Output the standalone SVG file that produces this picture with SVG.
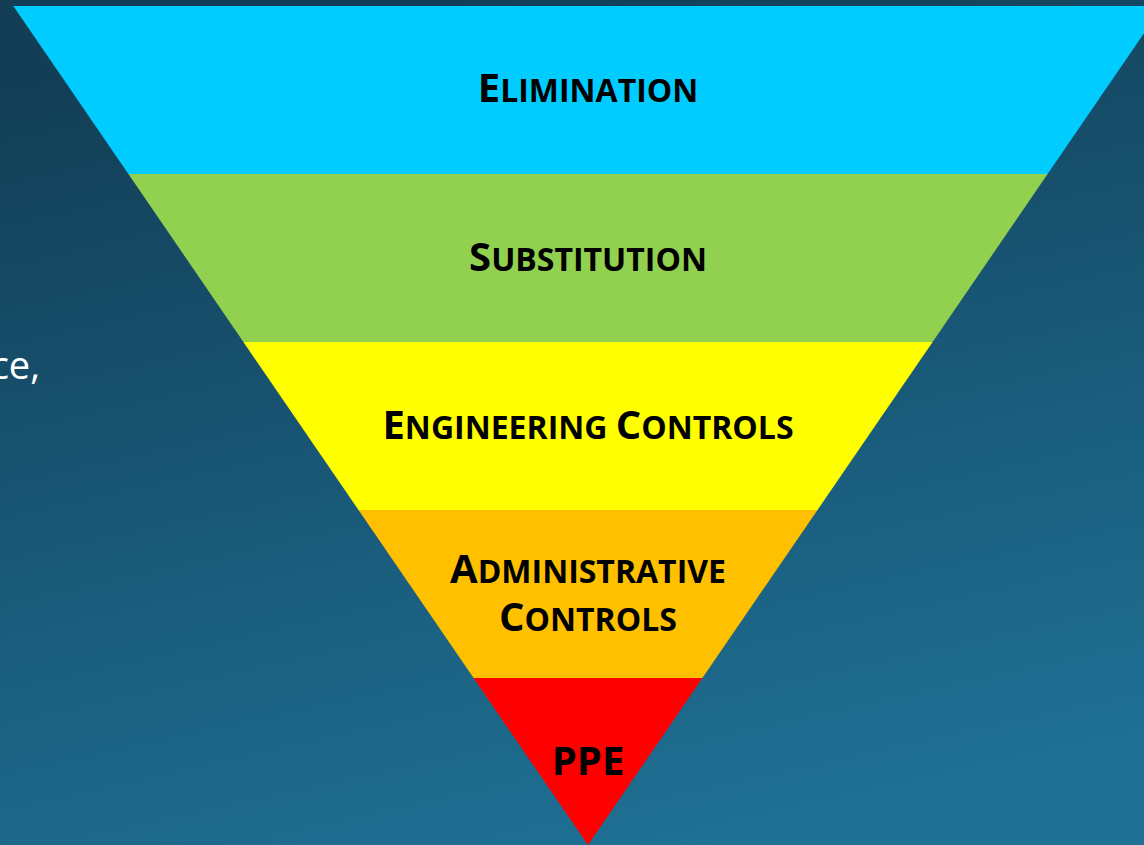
<svg xmlns="http://www.w3.org/2000/svg" width="1144" height="845" viewBox="0 0 1144 845">
<defs>
<linearGradient id="bg" x1="0.35" y1="0" x2="0.65" y2="1">
<stop offset="0" stop-color="#123e56"/>
<stop offset="1" stop-color="#1f7196"/>
</linearGradient>
</defs>
<style>
.lbl{font-family:"Open Sans","Noto Sans",sans-serif;font-weight:bold;fill:#000;text-anchor:middle}
.big{font-size:40px}
.sm{font-size:32px}
.side{font-family:"Open Sans","Noto Sans",sans-serif;font-size:38px;fill:#ffffff;text-anchor:end}
</style>
<rect x="0" y="0" width="1144" height="845" fill="url(#bg)"/>
<text class="side" x="40" y="379">ce,</text>
<g id="elimination">
<polygon points="13.3,6 1162.7,6 1047.6,174 128.4,174" fill="#00ccff"/>
<text class="lbl" x="588" y="102"><tspan class="big">E</tspan><tspan class="sm">LIMINATION</tspan></text>
</g>
<g id="substitution">
<polygon points="128.4,174 1047.6,174 932.6,342 243.4,342" fill="#92d050"/>
<text class="lbl" x="588" y="271"><tspan class="big">S</tspan><tspan class="sm">UBSTITUTION</tspan></text>
</g>
<g id="engineering">
<polygon points="243.4,342 932.6,342 817.5,510 358.5,510" fill="#ffff00"/>
<text class="lbl" x="588" y="439"><tspan class="big">E</tspan><tspan class="sm">NGINEERING </tspan><tspan class="big">C</tspan><tspan class="sm">ONTROLS</tspan></text>
</g>
<g id="administrative">
<polygon points="358.5,510 817.5,510 702.4,678 473.6,678" fill="#ffc000"/>
<text class="lbl" x="588" y="583"><tspan class="big">A</tspan><tspan class="sm">DMINISTRATIVE</tspan></text>
<text class="lbl" x="588" y="631"><tspan class="big">C</tspan><tspan class="sm">ONTROLS</tspan></text>
</g>
<g id="ppe">
<polygon points="473.6,678 702.4,678 588,845" fill="#ff0000"/>
<text class="lbl big" x="588" y="775">PPE</text>
</g>
<g id="connectors"/>
</svg>
